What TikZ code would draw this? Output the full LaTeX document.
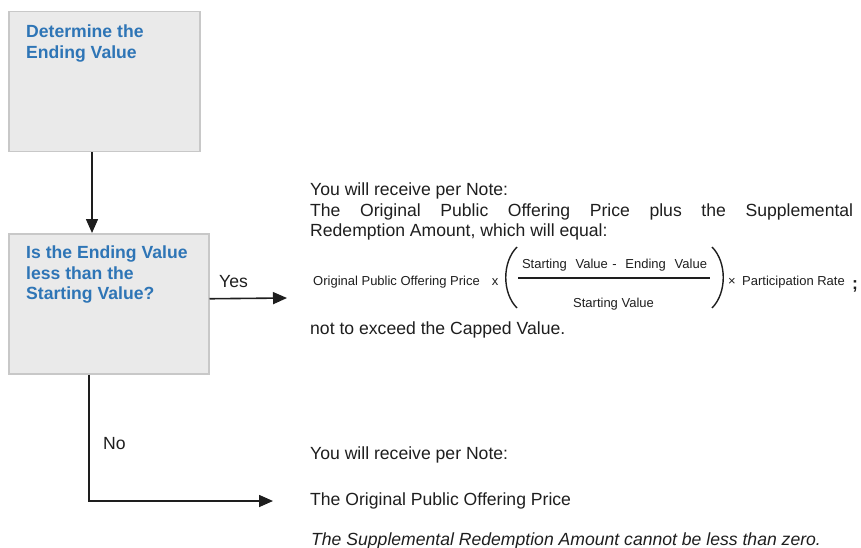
\documentclass[tikz,border=0pt]{standalone}
\usepackage{fontspec}
\setmainfont{Liberation Sans}
\usetikzlibrary{arrows.meta}
\definecolor{titleblue}{RGB}{46,117,182}
\definecolor{boxfill}{RGB}{234,234,234}
\definecolor{boxline}{RGB}{200,200,200}
\definecolor{inkgray}{RGB}{30,30,30}
\tikzset{
  flowbox/.style={draw=boxline, fill=boxfill, line width=1.5pt, rectangle, inner sep=0pt, anchor=north west},
  boxtitle/.style={anchor=north west, inner sep=0pt, align=left, text=titleblue,
    font=\fontsize{17.6}{20.5}\selectfont\bfseries},
  body/.style={anchor=north west, inner sep=0pt, align=left, text=inkgray,
    font=\fontsize{17.6}{20.5}\selectfont},
  small/.style={inner sep=0pt, text=inkgray, font=\fontsize{13}{15}\selectfont},
  arr/.style={draw=inkgray, line width=1.6pt, -{Triangle[length=14pt,width=12pt]}},
  paren/.style={draw=inkgray, line width=1.4pt},
}
\begin{document}
\begin{tikzpicture}[x=1pt,y=-1pt]
\useasboundingbox (0,0) rectangle (861,548);
% boxes
\node[flowbox, minimum width=191pt, minimum height=140pt] (b1) at (8,11) {};
\node[flowbox, minimum width=200pt, minimum height=140pt] (b2) at (8,233) {};
\node[boxtitle] (t1) at (26,25) {Determine the\\Ending Value};
\node[boxtitle] (t2) at (26,246) {Is the Ending Value\\less than the\\Starting Value?};
% connector ends
\coordinate (yesEnd) at (287,298);
\coordinate (noEnd) at (273,501);
% connectors
\draw[arr] ([xshift=84pt]b1.south west) -- ([xshift=84pt]b2.north west);
\draw[arr] ([yshift=5pt]b2.east) -- (yesEnd);
\draw[arr] ([xshift=81pt]b2.south west) |- (noEnd);
\node[body] (yes) at (219,275) {Yes};
\node[body] (no) at (103,437) {No};
% upper result text
\node[body] (r1) at (310,183) {You will receive per Note:\\
  \makebox[543pt][s]{The Original Public Offering Price plus the Supplemental}\\
  Redemption Amount, which will equal:};
% formula
\node[small, anchor=base west] (f1) at (313,285) {Original Public Offering Price};
\node[small, anchor=base] (fx) at (495,285) {x};
\draw[paren] (517,247) .. controls (502,262) and (502,293) .. (517,308);
\node[small, anchor=base] (fnum) at (614.5,268.5) {\makebox[185pt][s]{Starting\ \ Value\ -\ \ Ending\ \ Value}};
\draw[draw=inkgray, line width=1.3pt] (518,278) -- (710,278);
\node[small, anchor=base] (fden) at (613.5,307.5) {Starting Value};
\draw[paren] (712,247) .. controls (727,262) and (727,293) .. (712,308);
\node[small, anchor=base] (ftimes) at (732,285) {×};
\node[small, anchor=base west] (fpr) at (742,285) {Participation Rate};
\node[body, anchor=base] (fsemi) at (855,289) {\bfseries ;};
\node[body] (r2) at (310,322) {not to exceed the Capped Value.};
% lower result text
\node[body] (r3) at (310,447) {You will receive per Note:};
\node[body] (r4) at (310,493) {The Original Public Offering Price};
\node[body] (r5) at (311,533) {\itshape The Supplemental Redemption Amount cannot be less than zero.};
\end{tikzpicture}
\end{document}
